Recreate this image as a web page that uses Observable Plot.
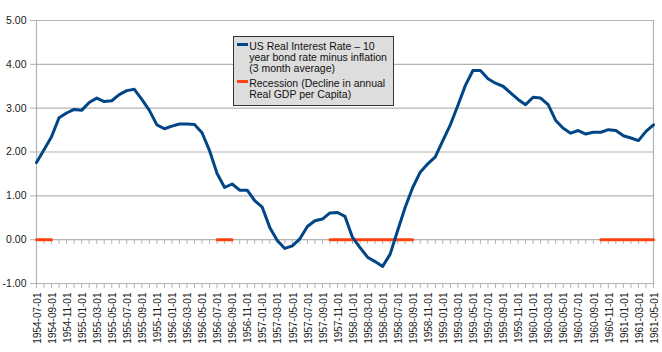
<!DOCTYPE html>
<html><head><meta charset="utf-8">
<script src="https://cdn.jsdelivr.net/npm/d3@7"></script>
<script src="https://cdn.jsdelivr.net/npm/@observablehq/plot@0.6"></script>
<style>
html,body{margin:0;padding:0;background:#fff;}
#wrap{position:relative;width:662px;height:352px;font-family:"Liberation Sans",Arial,sans-serif;}
#legend{position:absolute;left:233px;top:36px;width:161px;height:69.5px;background:#dddddd;border:1.5px solid #333;font-size:10.5px;line-height:11.3px;color:#111;padding-top:3.5px;box-sizing:border-box;}
#legend .item{position:relative;padding-left:15.2px;}
#legend .item + .item{margin-top:3.4px;}
#legend .key{position:absolute;left:2.5px;top:2.5px;width:11.5px;height:3px;}
</style>
</head><body>
<div id="wrap"></div>
<script>
// Monthly categories 1954-07-01 .. 1961-05-01
const months = d3.utcMonths(new Date(Date.UTC(1954,6,1)), new Date(Date.UTC(1961,4,2))).map(d => d3.utcFormat("%Y-%m-%d")(d));
const labelMonths = months.filter((d,i) => i % 2 === 0);
const yTicks = [-1,0,1,2,3,4,5];

// US Real Interest Rate – 10 year bond rate minus inflation (3 month average)
const rate = [
 1.76,2.05,2.35,2.78,2.89,2.97,
 2.95,3.13,3.23,3.15,3.17,3.31,3.40,3.43,3.20,2.95,2.62,2.53,
 2.59,2.64,2.64,2.63,2.44,2.03,1.51,1.19,1.27,1.13,1.13,0.89,
 0.74,0.28,-0.02,-0.20,-0.14,0.02,0.30,0.43,0.47,0.61,0.62,0.53,
 0.05,-0.18,-0.40,-0.50,-0.61,-0.33,0.21,0.74,1.19,1.54,1.73,1.89,
 2.26,2.62,3.06,3.52,3.86,3.86,3.67,3.57,3.50,3.35,3.20,3.08,
 3.25,3.23,3.08,2.72,2.54,2.43,2.49,2.41,2.45,2.45,2.51,2.49,
 2.37,2.32,2.26,2.47,2.62
];
// Recession (Decline in annual Real GDP per Capita): 0 in recession months, blank otherwise
const N = NaN;
const recession = [
 0,0,0,N,N,N,
 N,N,N,N,N,N,N,N,N,N,N,N,
 N,N,N,N,N,N,0,0,0,N,N,N,
 N,N,N,N,N,N,N,N,N,0,0,0,
 0,0,0,0,0,0,0,0,0,N,N,N,
 N,N,N,N,N,N,N,N,N,N,N,N,
 N,N,N,N,N,N,N,N,N,0,0,0,
 0,0,0,0,0
];

const data = months.map((m,i) => ({month:m, rate:rate[i], recession:recession[i]}));
const grid = "#b3b3b3";

const chart = Plot.plot({
  width:662, height:352,
  marginLeft:36, marginRight:9, marginTop:20, marginBottom:69,
  x:{type:"point", domain:months, padding:0},
  y:{domain:[-1,5]},
  style:{fontFamily:"Liberation Sans, Arial, sans-serif", fontSize:"10px", color:"#1a1a1a", background:"transparent"},
  marks:[
    Plot.ruleY(yTicks, {stroke:grid, strokeWidth:1.2}),
    Plot.ruleX([months[0], months[months.length-1]], {y1:-1, y2:5, stroke:grid, strokeWidth:1.2}),
    Plot.ruleX(months, {y1:0, y2:-0.11, stroke:grid}),
    Plot.axisX({ticks:months, tickSize:5, tickFormat:() => "", stroke:grid, label:null}),
    Plot.axisX({ticks:labelMonths, tickSize:0, tickPadding:9, tickRotate:-90, label:null, fontSize:10, dx:1}),
    Plot.axisY({ticks:yTicks, tickSize:6, tickPadding:4, tickFormat:d => d.toFixed(2), stroke:grid, label:null, fontSize:10.5}),
    Plot.line(data, {x:"month", y:"recession", stroke:"#ff420e", strokeWidth:3}),
    Plot.line(data, {x:"month", y:"rate", stroke:"#004586", strokeWidth:3, strokeLinejoin:"round"})
  ]
});
const wrap = document.getElementById("wrap");
wrap.appendChild(chart);

const legendItems = [
  {label:"US Real Interest Rate – 10 year bond rate minus inflation (3 month average)", color:"#004586"},
  {label:"Recession (Decline in annual Real GDP per Capita)", color:"#ff420e"}
];
const lg = document.createElement("div");
lg.id = "legend";
for (const it of legendItems) {
  const d = document.createElement("div");
  d.className = "item";
  const k = document.createElement("span");
  k.className = "key";
  k.style.background = it.color;
  d.appendChild(k);
  d.appendChild(document.createTextNode(it.label));
  lg.appendChild(d);
}
wrap.appendChild(lg);
</script>
</body></html>
